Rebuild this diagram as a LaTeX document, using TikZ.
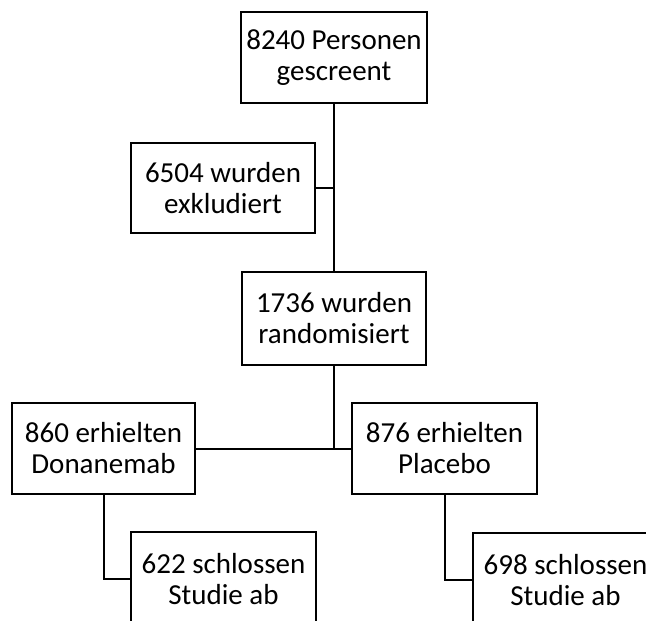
\documentclass[tikz,border=0pt]{standalone}
\usepackage{fontspec}
\setmainfont{Carlito}
\begin{document}
\begin{tikzpicture}[x=1pt,y=-1pt,
  box/.style={draw=black,line width=2pt,fill=white,inner sep=0pt,align=center,
    minimum width=#1,font=\fontsize{29}{31}\selectfont},
  conn/.style={draw=black,line width=2pt}]
\useasboundingbox (0,0) rectangle (646,621);
\clip (0,0) rectangle (646,621);
\node[box=186pt,minimum height=91pt] (b1) at (334,57.5) {8240 Personen\\gescreent};
\node[box=184pt,minimum height=90pt] (b2) at (223,188) {6504 wurden\\exkludiert};
\node[box=184pt,minimum height=93pt] (b3) at (334,318.5) {1736 wurden\\randomisiert};
\node[box=183pt,minimum height=91pt] (b4) at (103.5,448.5) {860 erhielten\\Donanemab};
\node[box=185pt,minimum height=91pt] (b5) at (444.5,448.5) {876 erhielten\\Placebo};
\node[box=185pt,minimum height=94pt] (b6) at (223.5,579) {622 schlossen\\Studie ab};
\node[box=185pt,minimum height=94pt] (b7) at (565.5,580) {698 schlossen\\Studie ab};
\coordinate (j1) at (b1.south |- b2.east);
\coordinate (j2) at (b3.south |- b4.east);
\draw[conn] (b1.south) -- (b3.north);
\draw[conn] (b2.east) -- (j1);
\draw[conn] (b3.south) -- (j2);
\draw[conn] (b4.east) -- (b5.west);
\draw[conn] (b4.south) |- (b6.west);
\draw[conn] (b5.south) |- (b7.west);
\end{tikzpicture}
\end{document}
